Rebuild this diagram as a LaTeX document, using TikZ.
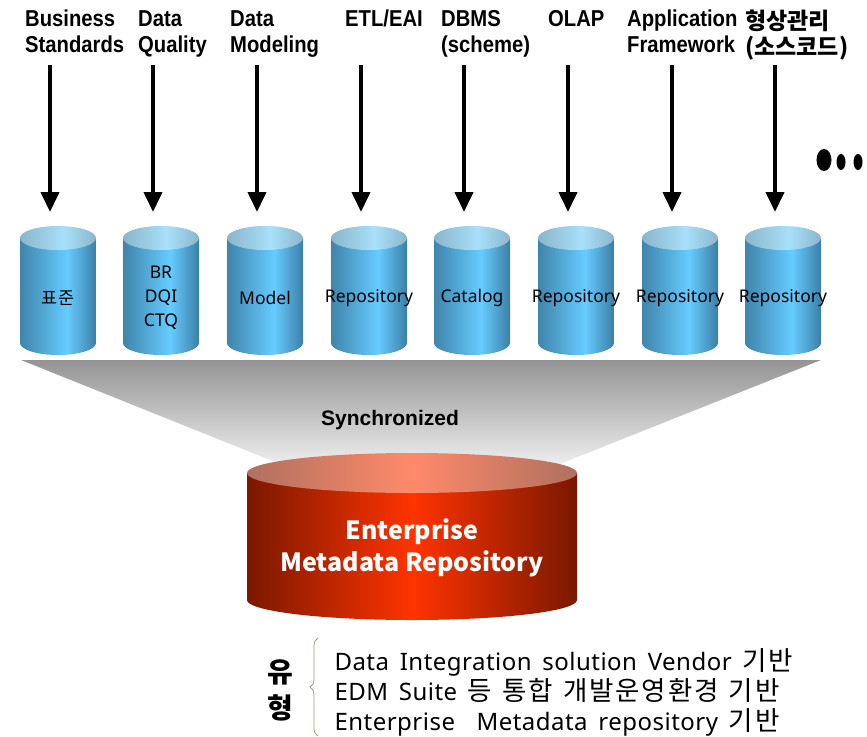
\documentclass[tikz,border=0pt]{standalone}
\usepackage{fontspec}
\setmainfont{Noto Sans}
\newfontfamily\kr{Noto Sans CJK KR}
\newfontfamily\narrow[FakeStretch=0.88]{Liberation Sans}
\newfontfamily\arial{Liberation Sans}
\newfontfamily\wide[LetterSpace=2,WordSpace=1.6]{Noto Sans}
\newfontfamily\krwide[LetterSpace=7,WordSpace=1.3]{Noto Sans CJK KR}
\usetikzlibrary{arrows.meta,decorations.pathreplacing}
\definecolor{blueedge}{HTML}{3F84AB}
\definecolor{blueedgeR}{HTML}{3C7FA6}
\definecolor{bluemid}{HTML}{66CCFF}
\definecolor{bluetopedge}{HTML}{8AB6CC}
\definecolor{bluetopmid}{HTML}{A8E0FA}
\definecolor{rededge}{HTML}{7A1800}
\definecolor{redmid}{HTML}{FF3300}
\definecolor{redtopedge}{HTML}{B0705F}
\definecolor{redtopmid}{HTML}{FF8A6A}
\definecolor{bracegreen}{HTML}{8FA876}
\pgfdeclarehorizontalshading{bluebody}{100bp}{color(0bp)=(blueedge); color(25bp)=(blueedge); color(56bp)=(bluemid); color(75bp)=(blueedgeR); color(100bp)=(blueedgeR)}
\pgfdeclarehorizontalshading{bluetop}{100bp}{color(0bp)=(bluetopedge); color(25bp)=(bluetopedge); color(54bp)=(bluetopmid); color(75bp)=(bluetopedge); color(100bp)=(bluetopedge)}
\begin{document}
\begin{tikzpicture}[x=1pt,y=-1pt,
  src/.style={anchor=north west,align=left,inner sep=0pt,font=\fontsize{23}{26}\selectfont\narrow\bfseries},
  dblabel/.style={align=center,font=\fontsize{17.5}{24}\selectfont},
  flow/.style={line width=4pt,-{Triangle[width=18pt,length=20pt]}}]
\useasboundingbox (0,0) rectangle (867,736);
% funnel
\shade[top color=black!42, bottom color=black!7] (21,360) -- (821,360) -- (560,464) -- (280,464) -- cycle;
% sources
\foreach \i/\x/\txt in {1/25/{Business\\Standards}, 2/138/{Data\\Quality}, 3/230/{Data\\Modeling}, 4/345/{ETL/EAI}, 5/441/{DBMS\\(scheme)}, 6/548/{OLAP}, 7/627/{Application\\Framework}, 8/745/{{\kr 형상관리}\\{\kr (소스코드)}}}
  \node[src] (src\i) at (\x,10) {\txt};
% repositories
\foreach \i/\x/\txt in {1/58/{\kr 표준}, 2/161/{BR\\DQI\\CTQ}, 3/265/Model, 4/369/Repository, 5/472/Catalog, 6/576/Repository, 7/680/Repository, 8/783/Repository}{
  \shade[shading=bluebody] (\x-38,238) -- (\x-38,343) arc[start angle=180,end angle=0,x radius=38,y radius=12] -- (\x+38,238) -- cycle;
  \shade[shading=bluetop] (\x,238) ellipse[x radius=38,y radius=12];
  \node[dblabel] (db\i) at (\x,298) {\txt};
  \coordinate (in\i) at (\x-8,65);
  \coordinate (tip\i) at (\x-8,212);
  \draw[flow] (in\i) -- (tip\i);
}
\fill (824,160) ellipse[x radius=7.5,y radius=11];
\fill (841,162) ellipse[x radius=4.5,y radius=8];
\fill (858,162) ellipse[x radius=4.5,y radius=8];
\node[font=\fontsize{21}{24}\selectfont\arial\bfseries] (sync) at (390,420) {Synchronized};
% enterprise repository
\shade[left color=rededge, right color=rededge, middle color=redmid] (247,473) -- (247,600) arc[start angle=180,end angle=0,x radius=165,y radius=20] -- (577,473) -- cycle;
\shade[left color=redtopedge, right color=redtopedge, middle color=redtopmid] (412,473) ellipse[x radius=165,y radius=20];
\node[text=white,align=center,font=\fontsize{25}{32}\selectfont\kr\bfseries] (emr) at (412,548) {Enterprise\\Metadata Repository};
% types
\node[align=center,font=\fontsize{28}{36}\selectfont\kr\bfseries] (kind) at (280,690) {유\\형};
\coordinate (bt) at (318,638);
\coordinate (bb) at (318,736);
\draw[bracegreen,line width=0.8pt,decorate,decoration={brace,amplitude=8pt}] (bb) -- (bt);
\node[anchor=west,align=left,font=\fontsize{24}{30}\selectfont\wide] (types) at (331,692) {Data Integration solution Vendor {\krwide\fontsize{26.5}{30}\selectfont 기반}\\EDM Suite {\krwide\fontsize{26.5}{30}\selectfont 등 통합 개발운영환경 기반}\\Enterprise\ \ Metadata repository {\krwide\fontsize{26.5}{30}\selectfont 기반}};
\end{tikzpicture}
\end{document}
